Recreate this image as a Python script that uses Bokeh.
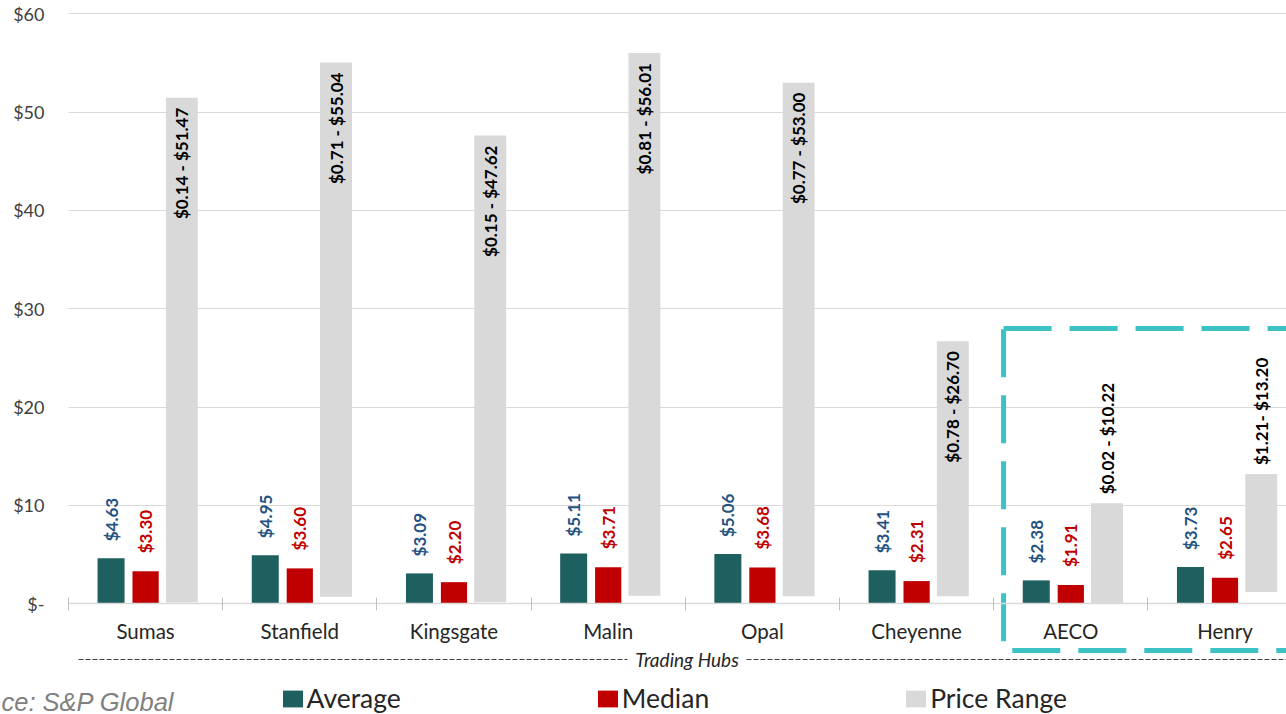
import numpy as np
from bokeh.plotting import figure
from bokeh.models import (Range1d, LinearAxis, FixedTicker, Grid, Legend, LegendItem,
                          Label, ColumnDataSource)
from bokeh.transform import dodge
from bokeh.core.properties import value
from bokeh.embed import file_html
from bokeh.resources import INLINE

# ---------------- data ----------------
hubs = ["Sumas", "Stanfield", "Kingsgate", "Malin", "Opal", "Cheyenne", "AECO", "Henry"]
average = [4.63, 4.95, 3.09, 5.11, 5.06, 3.41, 2.38, 3.73]
median = [3.30, 3.60, 2.20, 3.71, 3.68, 2.31, 1.91, 2.65]
range_low = [0.14, 0.71, 0.15, 0.81, 0.77, 0.78, 0.02, 1.21]
range_high = [51.47, 55.04, 47.62, 56.01, 53.00, 26.70, 10.22, 13.20]
range_labels = ["$0.14 - $51.47", "$0.71 - $55.04", "$0.15 - $47.62", "$0.81 - $56.01",
                "$0.77 - $53.00", "$0.78 - $26.70", "$0.02 - $10.22", "$1.21- $13.20"]
y_ticks = [0, 10, 20, 30, 40, 50, 60]
highlight = ["AECO", "Henry"]
series_names = ["Average", "Median", "Price Range"]
axis_title = "Trading Hubs"
source_note = "ce: S&P Global"   # visible part of the (cropped) source line

# ---------------- styles ----------------
AVG_C = "#1E5F5F"
MED_C = "#C00000"
RNG_C = "#D9D9D9"
AVG_LBL_C = "#245280"
TEAL = "#3CC2C4"
GRID_C = "#D9D9D9"
TXT_C = "#262626"
FONT = "Lato"

W, H = 1286, 714
OFF = 0
PLOT_LEFT = 68.0          # px of category axis start
CAT_PX = 154.2            # px per category
ZERO_Y = 603.3            # px of y=0
UNIT_PX = 590.0 / 60.0    # px per dollar


def dx(px):
    return (px - PLOT_LEFT) / CAT_PX


def dy(py):
    return (ZERO_Y - py) / UNIT_PX


p = figure(width=W, height=H,
           x_range=Range1d(dx(OFF), dx(OFF + W)),
           y_range=Range1d(dy(OFF + H), dy(OFF)),
           x_axis_type=None, y_axis_type=None,
           output_backend="svg", toolbar_location=None,
           min_border=0, outline_line_color=None,
           background_fill_color="white", border_fill_color="white")

n = len(hubs)
idx = np.arange(n) + 0.5

# grid lines
grid = Grid(dimension=1, ticker=FixedTicker(ticks=y_ticks),
            grid_line_color=GRID_C, grid_line_width=1)
try:
    grid.cross_bounds = (0, n)
    p.add_layout(grid)
except Exception:
    p.segment(x0=[0] * len(y_ticks), x1=[n] * len(y_ticks), y0=y_ticks, y1=y_ticks,
              line_color=GRID_C, line_width=1)

src = ColumnDataSource(dict(
    x=idx, avg=average, med=median, lo=range_low, hi=range_high,
    avg_lbl=[f"${v:.2f}" for v in average],
    med_lbl=[f"${v:.2f}" for v in median],
))

AVG_OFF, MED_OFF, RNG_OFF = -0.224, 0.0, 0.235

avg_r = p.vbar(x=dodge("x", AVG_OFF), top="avg", bottom=0, width=0.175,
               fill_color=AVG_C, line_color=None, source=src)
med_r = p.vbar(x=dodge("x", MED_OFF), top="med", bottom=0, width=0.17,
               fill_color=MED_C, line_color=None, source=src)
rng_r = p.vbar(x=dodge("x", RNG_OFF), top="hi", bottom="lo", width=0.207,
               fill_color=RNG_C, line_color=None, source=src)

lbl_common = dict(angle=np.pi / 2, text_baseline="middle",
                  text_font=value(FONT), text_font_style="bold", text_font_size="17px")
p.text(x=dodge("x", AVG_OFF), y="avg", text="avg_lbl", text_align="left", y_offset=-17,
       text_color=AVG_LBL_C, source=src, **lbl_common)
p.text(x=dodge("x", MED_OFF), y="med", text="med_lbl", text_align="left", y_offset=-18,
       text_color=MED_C, source=src, **lbl_common)

inside = [h > 20 for h in range_high]
src_in = ColumnDataSource(dict(
    x=[idx[i] for i in range(n) if inside[i]],
    y=[range_high[i] for i in range(n) if inside[i]],
    t=[range_labels[i] for i in range(n) if inside[i]]))
src_out = ColumnDataSource(dict(
    x=[idx[i] for i in range(n) if not inside[i]],
    y=[range_high[i] for i in range(n) if not inside[i]],
    t=[range_labels[i] for i in range(n) if not inside[i]]))
p.text(x=dodge("x", RNG_OFF), y="y", text="t", text_align="right", y_offset=10,
       text_color="black", source=src_in, **lbl_common)
p.text(x=dodge("x", RNG_OFF), y="y", text="t", text_align="left", y_offset=-9,
       text_color="black", source=src_out, **lbl_common)

# axes
xaxis = LinearAxis(
    ticker=FixedTicker(ticks=list(idx), minor_ticks=list(range(n + 1))),
    major_label_overrides={float(c): h for c, h in zip(idx, hubs)},
    bounds=(0, n), axis_line_color=GRID_C, axis_line_width=1.5,
    major_tick_line_color=None, major_tick_in=0, major_tick_out=0,
    minor_tick_in=6, minor_tick_out=7, minor_tick_line_color="#BFBFBF",
    major_label_standoff=8, major_label_text_font=FONT,
    major_label_text_font_size="20.5px", major_label_text_color=TXT_C)
xaxis.fixed_location = 0
p.add_layout(xaxis, "below")

yaxis = LinearAxis(
    ticker=FixedTicker(ticks=y_ticks),
    major_label_overrides={t: ("$-" if t == 0 else f"${t}") for t in y_ticks},
    axis_line_color=None, major_tick_line_color=None, minor_tick_line_color=None,
    major_tick_in=0, major_tick_out=0, major_label_standoff=24,
    major_label_text_font=FONT, major_label_text_font_size="18px",
    major_label_text_color="#404040")
yaxis.fixed_location = 0
p.add_layout(yaxis, "left")

# highlight box around AECO / Henry
hl = [hubs.index(h) for h in highlight]
p.quad(left=[min(hl) + 0.064], right=[max(hl) + 1.2], top=[dy(328)], bottom=[dy(650)],
       fill_color=None, line_color=TEAL, line_width=5, line_dash="48 18")

# axis title with dashed rule
ty = dy(659)
p.segment(x0=[dx(78), dx(746)], x1=[dx(627), dx(1300)], y0=[ty, ty], y1=[ty, ty],
          line_color="#404040", line_width=1, line_dash="5 2")
p.add_layout(Label(x=dx(686.5), y=ty, text=axis_title, text_align="center",
                   text_baseline="middle", text_font=FONT, text_font_style="italic",
                   text_font_size="19px", text_color=TXT_C))

# source note
p.add_layout(Label(x=dx(1), y=dy(701), text=source_note, text_align="left",
                   text_baseline="middle", text_font="Liberation Sans",
                   text_font_style="italic", text_font_size="25.5px", text_color="#808080"))

legend = Legend(items=[LegendItem(label=series_names[0], renderers=[avg_r]),
                       LegendItem(label=series_names[1], renderers=[med_r]),
                       LegendItem(label=series_names[2], renderers=[rng_r])],
                orientation="horizontal", location=(279.5 - OFF, 0),
                padding=0, margin=0, spacing=194, label_standoff=2,
                glyph_width=25, glyph_height=21, label_height=21,
                label_text_font=FONT, label_text_font_size="26.5px",
                label_text_color=TXT_C, border_line_color=None,
                background_fill_alpha=0)
p.add_layout(legend)

open("out.html", "w").write(file_html(p, INLINE))
